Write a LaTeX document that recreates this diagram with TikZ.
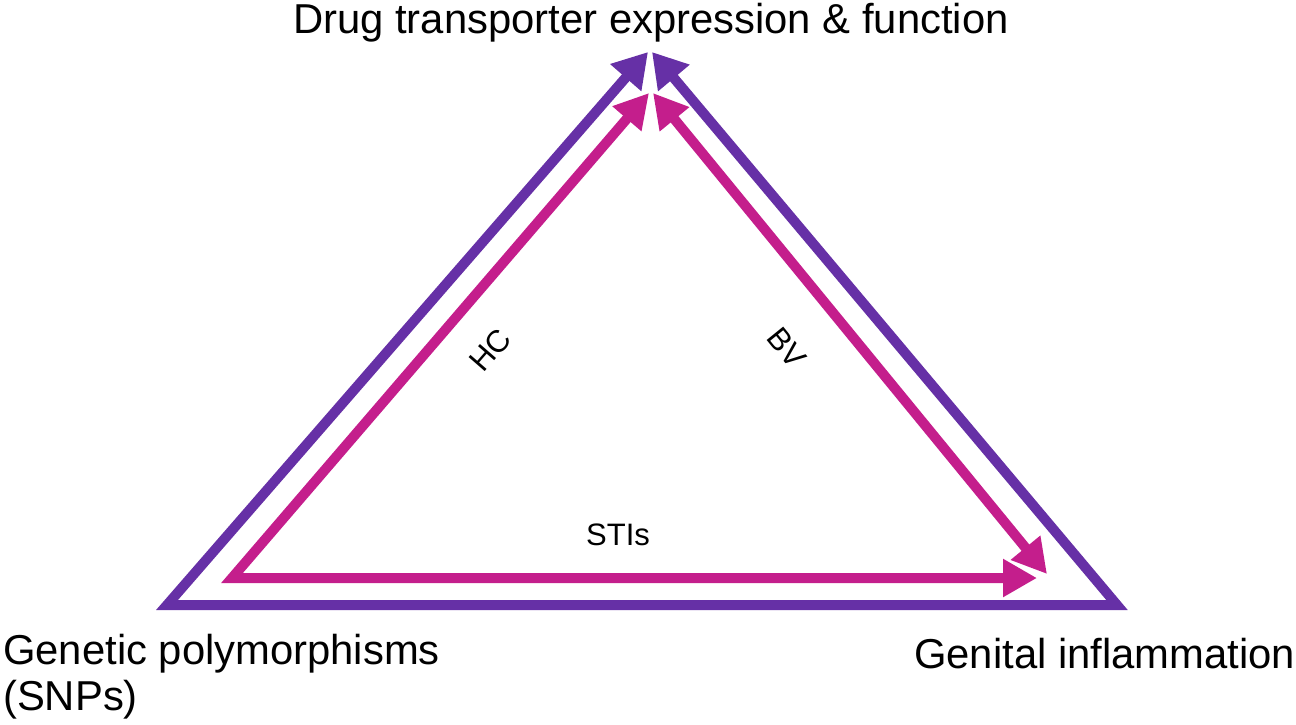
\documentclass[tikz,border=0pt]{standalone}
\usepackage{fontspec}
\setmainfont{Liberation Sans}
\usetikzlibrary{arrows.meta}
\definecolor{tripurple}{RGB}{102,48,166}
\definecolor{tripink}{RGB}{196,30,140}
\tikzset{
  purpleline/.style={draw=tripurple, line width=10pt, line join=miter,
    {Triangle[length=34pt,width=39pt]}-{Triangle[length=34pt,width=39pt]}},
  pinkline/.style={draw=tripink, line width=10pt, line join=miter,
    {Triangle[length=34pt,width=36pt]}-{Triangle[length=34pt,width=36pt]}},
  biglabel/.style={font=\fontsize{41.8}{46}\selectfont, inner sep=0pt, text=black},
  smalllabel/.style={font=\fontsize{31}{36}\selectfont, inner sep=0pt, text=black}
}
\begin{document}
\begin{tikzpicture}[x=1pt,y=-1pt]
\useasboundingbox (0,0) rectangle (1296,724);
% purple triangle
\coordinate (PL) at (167,605);
\coordinate (PR) at (1117,605);
\coordinate (PT1) at (648,52);
\coordinate (PT2) at (652,52);
\draw[purpleline] (PT1) -- (PL) -- (PR) -- (PT2);
% pink arrows
\coordinate (Q0) at (232,578);
\coordinate (QHC) at (649,93);
\coordinate (QSTI) at (1037,578);
\coordinate (QBV1) at (653,93);
\coordinate (QBV2) at (1047,574);
\draw[pinkline] (QHC) -- (Q0) -- (QSTI);
\draw[pinkline] (QBV1) -- (QBV2);
% labels
\node[biglabel, anchor=base west] (top) at (293,33) {Drug transporter expression \& function};
\node[biglabel, anchor=base west] (gen) at (3,664) {Genetic polymorphisms};
\node[biglabel, anchor=base west] (snp) at (3,710) {(SNPs)};
\node[biglabel, anchor=base west] (inf) at (914,668) {Genital inflammation};
\node[smalllabel, anchor=base west] (sti) at (586,545) {STIs};
\node[smalllabel, rotate=49] (hc) at (490,350) {HC};
\node[smalllabel, rotate=-51] (bv) at (787,348) {BV};
\end{tikzpicture}
\end{document}
